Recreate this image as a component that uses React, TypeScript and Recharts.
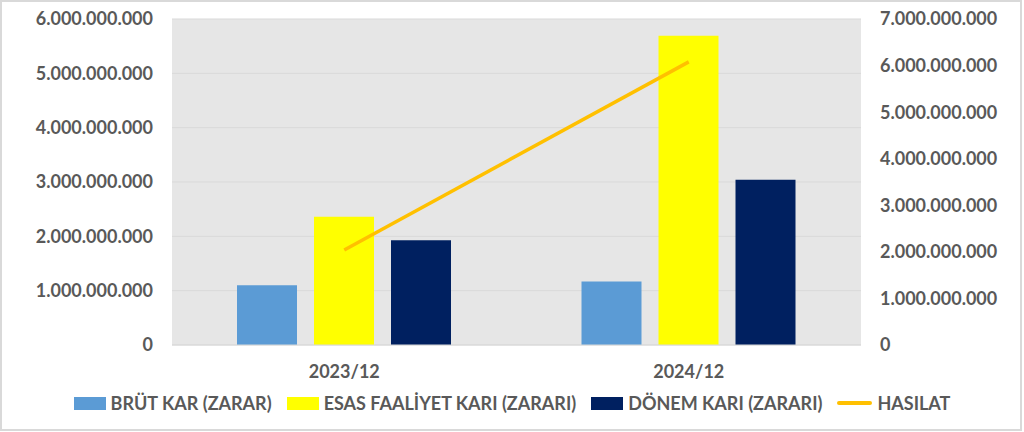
import {Bar, CartesianGrid, ComposedChart, Legend, Line, XAxis, YAxis} from "recharts";

const periods = ["2023/12", "2024/12"];
const grossProfit = [1100000000, 1170000000];
const operatingProfit = [2360000000, 5690000000];
const netProfit = [1930000000, 3040000000];
const revenue = [2040000000, 6080000000];

const leftTicks = [0, 1000000000, 2000000000, 3000000000, 4000000000, 5000000000, 6000000000];
const rightTicks = [0, 1000000000, 2000000000, 3000000000, 4000000000, 5000000000, 6000000000, 7000000000];

const series = [
  {key: "brut", name: "BRÜT KAR (ZARAR)", color: "#5B9BD5", kind: "bar"},
  {key: "esas", name: "ESAS FAALİYET KARI (ZARARI)", color: "#FFFF00", kind: "bar"},
  {key: "donem", name: "DÖNEM KARI (ZARARI)", color: "#002060", kind: "bar"},
  {key: "hasilat", name: "HASILAT", color: "#FFC000", kind: "line"},
];

const data = periods.map((period, i) => ({
  period,
  brut: grossProfit[i],
  esas: operatingProfit[i],
  donem: netProfit[i],
  hasilat: revenue[i],
}));

const FONT = "Lato, 'Open Sans', sans-serif";
const TEXT = "#595959";

const formatTr = (v: number) => String(v).replace(/\B(?=(\d{3})+(?!\d))/g, ".");

const tickStyle = {fill: TEXT, fontSize: 18, fontWeight: 700, fontFamily: FONT};

function LegendRow() {
  return (
    <div style={{display: "flex", justifyContent: "center", alignItems: "center", gap: 15, height: 26, fontFamily: FONT, fontWeight: 700, fontSize: 18, color: TEXT}}>
      {series.map(s => (
        <div key={s.key} style={{display: "flex", alignItems: "center", gap: 5}}>
          {s.kind === "bar" ? (
            <div style={{width: 32, height: 13, background: s.color}}/>
          ) : (
            <div style={{width: 35, height: 4, background: s.color, borderRadius: 2}}/>
          )}
          <span>{s.name}</span>
        </div>
      ))}
    </div>
  );
}

export default function App() {
  return (
    <div style={{position: "absolute", left: 0, top: 0, width: 1024, height: 432, background: "#fff"}}>
      <ComposedChart width={1024} height={432} data={data} barSize={60} barGap={17}
                     margin={{top: 19, right: 0, bottom: 16, left: 0}}>
        <CartesianGrid vertical={false} stroke="#D9D9D9" fill="#E6E6E6" yAxisId="left"/>
        <XAxis dataKey="period" height={45} tickLine={false} axisLine={{stroke: "#D9D9D9"}}
               tickSize={0} tickMargin={20} tick={tickStyle}/>
        <YAxis yAxisId="left" width={172} domain={[0, 6000000000]} ticks={leftTicks}
               tickFormatter={formatTr} axisLine={false} tickLine={false} tickSize={0} tickMargin={19}
               tick={tickStyle} interval={0}/>
        <YAxis yAxisId="right" orientation="right" width={163} domain={[0, 7000000000]} ticks={rightTicks}
               tickFormatter={formatTr} axisLine={false} tickLine={false} tickSize={0} tickMargin={19}
               tick={{...tickStyle, textAnchor: "start"}} interval={0}/>
        <Legend verticalAlign="bottom" content={() => <LegendRow/>}/>
        {series.filter(s => s.kind === "bar").map(s => (
          <Bar key={s.key} yAxisId="left" dataKey={s.key} name={s.name} fill={s.color} isAnimationActive={false}/>
        ))}
        <Line yAxisId="right" type="linear" dataKey="hasilat" name="HASILAT" stroke="#FFC000" strokeWidth={3.5}
              dot={false} isAnimationActive={false}/>
      </ComposedChart>
      <div style={{position: "absolute", left: 0, top: 0, width: 1022, height: 431, border: "2px solid #D9D9D9", boxSizing: "border-box", pointerEvents: "none"}}/>
    </div>
  );
}
